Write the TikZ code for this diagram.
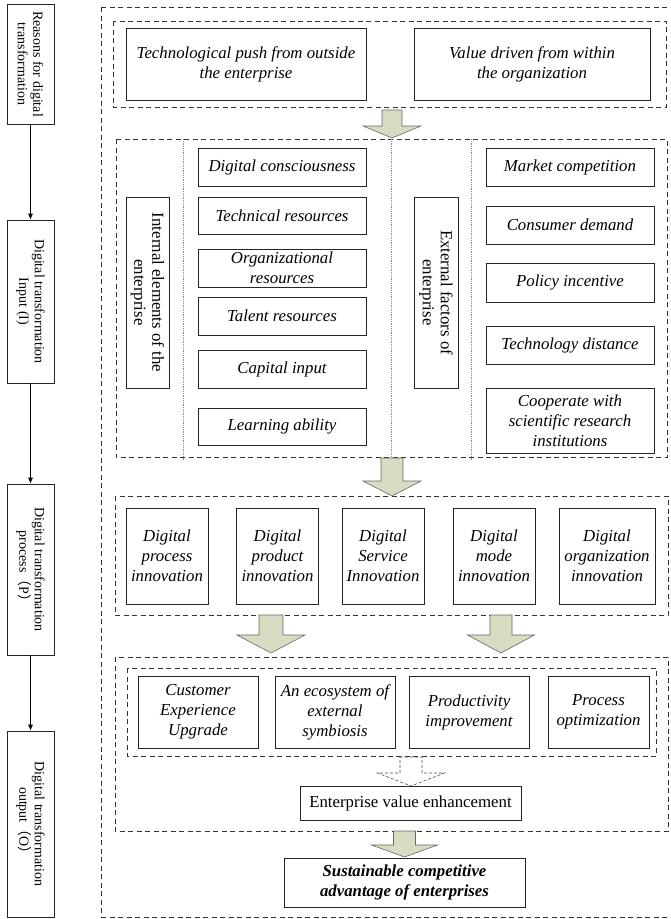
\documentclass[tikz,border=0pt]{standalone}
\usepackage{fontspec}
\setmainfont{Liberation Serif}
\newfontfamily\cjk{Noto Sans CJK SC}
\usetikzlibrary{arrows.meta}
\newcommand\myit{\fontsize{16.8}{20}\selectfont\itshape}
\newcommand\myrm{\fontsize{16.8}{18}\selectfont}
\newcommand\mysmall{\fontsize{14}{15.5}\selectfont}
\definecolor{arrfill}{RGB}{214,221,194}
\newcommand\blockarr[7][]{%
  \draw[barrow,#1] ({#2-#3},#5) -- ({#2+#3},#5) -- ({#2+#3},#6) -- ({#2+#4},#6)
    -- (#2,#7) -- ({#2-#4},#6) -- ({#2-#3},#6) -- cycle;}
\begin{document}
\begin{tikzpicture}[x=1pt,y=-1pt,
  ibox/.style={draw=black!85, line width=0.7pt, inner sep=1pt, align=center, font=\myit},
  rbox/.style={draw=black!85, line width=0.7pt, inner sep=1pt, align=center, font=\myrm},
  vbox/.style={draw=black!85, line width=0.7pt, inner sep=1pt, align=center, font=\myrm, rotate=-90},
  lbox/.style={draw=black!85, line width=0.7pt, inner sep=1pt, align=center, font=\mysmall, rotate=-90},
  dashbox/.style={draw=black!80, line width=0.7pt, dash pattern=on 5pt off 3.5pt},
  dotline/.style={draw=black!45, line width=0.6pt, dash pattern=on 0.8pt off 1pt},
  barrow/.style={draw=black!60, line width=0.6pt, fill=arrfill},
  link/.style={draw=black, line width=0.7pt, -{Latex[length=6pt,width=5pt]}}]
\useasboundingbox (0,0) rectangle (671,919);

% left column
\node[lbox, minimum width=120, minimum height=47] (L1) at (30.5,64) {Reasons for digital\\transformation};
\node[lbox, minimum width=163, minimum height=47] (L2) at (30.5,301.5) {Digital transformation\\Input (I)};
\node[lbox, minimum width=171, minimum height=47] (L3) at (30.5,569.5) {Digital transformation\\process{\cjk（}P{\cjk）}};
\node[lbox, minimum width=186, minimum height=47] (L4) at (30.5,824) {Digital transformation\\output{\cjk（}O{\cjk）}};
\draw[link] (L1) -- (L2);
\draw[link] (L2) -- (L3);
\draw[link] (L3) -- (L4);

% outer frame (its right side lies just past the edge of the picture)
\draw[dashbox] (101,7) -- (672,7);
\draw[dashbox] (101,917) -- (672,917);
\draw[dashbox] (101,7) -- (101,917);

% reasons
\draw[dashbox] (113,21) rectangle (666,107);
\node[ibox, minimum width=240, minimum height=72] (t1) at (246,64) {Technological push from outside\\the enterprise};
\node[ibox, minimum width=236, minimum height=72] (t2) at (532,64) {Value driven from within\\the organization};
\blockarr{392}{10}{29}{110}{126}{138}

% input
\draw[dashbox] (116,139) rectangle (667,457.5);
\draw[dotline] (183.5,139) -- (183.5,460);
\draw[dotline] (391.5,139) -- (391.5,460);
\draw[dotline] (471.5,139) -- (471.5,460);
\node[vbox, minimum width=191, minimum height=43] (ie) at (147.5,292.5) {Internal elements of the\\enterprise};
\node[ibox, minimum width=168, minimum height=38] (i1) at (282,167) {Digital consciousness};
\node[ibox, minimum width=168, minimum height=37] (i2) at (282,215.5) {Technical resources};
\node[ibox, minimum width=168, minimum height=38] (i3) at (282,268) {Organizational\\resources};
\node[ibox, minimum width=168, minimum height=38] (i4) at (282,316) {Talent resources};
\node[ibox, minimum width=168, minimum height=38] (i5) at (282,369) {Capital input};
\node[ibox, minimum width=168, minimum height=37] (i6) at (282,426.5) {Learning ability};
\node[vbox, minimum width=191, minimum height=44] (ef) at (436,292.5) {External factors of\\enterprise};
\node[ibox, minimum width=168, minimum height=38] (e1) at (570,167) {Market competition};
\node[ibox, minimum width=168, minimum height=38] (e2) at (570,225) {Consumer demand};
\node[ibox, minimum width=168, minimum height=39] (e3) at (570,282.5) {Policy incentive};
\node[ibox, minimum width=168, minimum height=38] (e4) at (570,345) {Technology distance};
\node[ibox, minimum width=168, minimum height=65] (e5) at (570,420.5) {Cooperate with\\scientific research\\institutions};
\blockarr{392}{11}{29}{458}{481}{496}

% process
\draw[dashbox] (115,496) rectangle (668,615);
\node[ibox, minimum width=82, minimum height=96] (p1) at (167,556) {Digital\\process\\innovation};
\node[ibox, minimum width=82, minimum height=96] (p2) at (277.5,556) {Digital\\product\\innovation};
\node[ibox, minimum width=82, minimum height=96] (p3) at (383,556) {Digital\\Service\\Innovation};
\node[ibox, minimum width=82, minimum height=96] (p4) at (494,556) {Digital\\mode\\innovation};
\node[ibox, minimum width=96, minimum height=96] (p5) at (607,556) {Digital\\organization\\innovation};
\blockarr{271}{12}{34}{615}{635}{653}
\blockarr{501}{11}{33.5}{615}{635}{653}

% output
\draw[dashbox] (115,657) rectangle (668,831);
\draw[dashbox] (127,668) rectangle (656,756);
\node[ibox, minimum width=120, minimum height=72] (o1) at (198,712) {Customer\\Experience\\Upgrade};
\node[ibox, minimum width=120, minimum height=72] (o2) at (335,712) {An ecosystem of\\external\\symbiosis};
\node[ibox, minimum width=120, minimum height=72] (o3) at (469,712) {Productivity\\improvement};
\node[ibox, minimum width=101, minimum height=72] (o4) at (598.5,712) {Process\\optimization};
\blockarr[fill=white, draw=black!70, dash pattern=on 3pt off 2pt]{411}{11}{33.5}{757}{773}{786}
\node[rbox, minimum width=221, minimum height=34] (ev) at (410.5,803) {Enterprise value enhancement};
\blockarr{404.5}{11}{33}{831}{845}{857}
\node[ibox, font=\myit\bfseries, minimum width=241, minimum height=49] (sc) at (404.5,882.5) {Sustainable competitive\\advantage of enterprises};
\end{tikzpicture}
\end{document}
